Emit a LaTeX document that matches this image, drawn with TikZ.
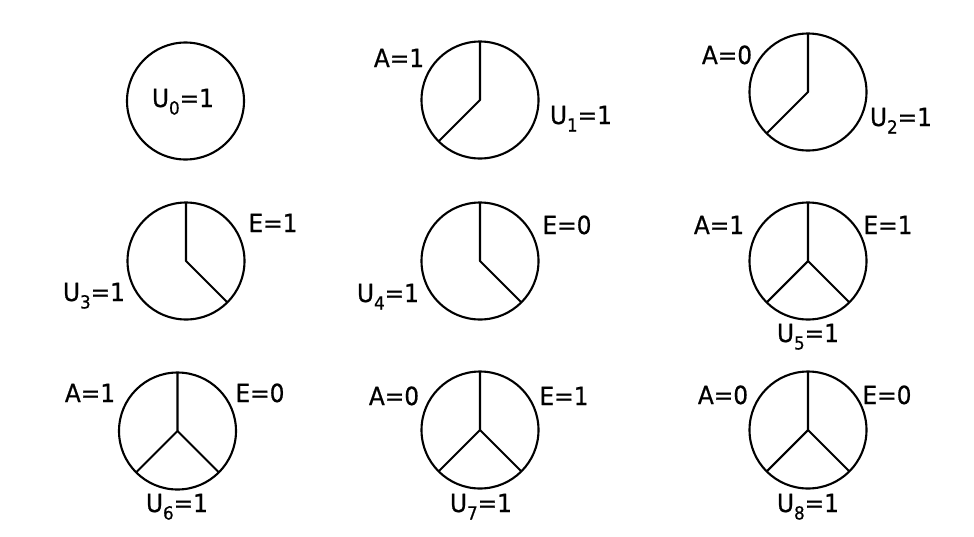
\documentclass[tikz,border=0pt]{standalone}
\usepackage{fontspec}
\setmainfont{DejaVu Sans}
\newfontfamily\labfont[FakeBold=0.6,FakeStretch=0.93]{DejaVu Sans}
\newcommand\subs[1]{\raisebox{-0.3em}{\fontsize{18}{18}\selectfont #1}}
\begin{document}
\begin{tikzpicture}[x=1pt,y=-1pt,
  pie/.style={circle,draw,line width=2.1pt,minimum size=117pt,inner sep=0pt,outer sep=0pt},
  cut/.style={line width=2.1pt,line join=round},
  lab/.style={anchor=base,inner sep=0pt,font=\labfont\fontsize{25}{29}\selectfont}]
\useasboundingbox (0,0) rectangle (974,536);
% row 1
\node[pie] (c0) at (185.5,101) {};
\node[lab] (t0) at (183,107) {U\subs{0}=1};
\node[pie] (c1) at (480,100) {};
\draw[cut] (c1.north) -- (c1.center) -- (c1.225);
\node[lab] (a1) at (399,67) {A=1};
\node[lab] (u1) at (581,124) {U\subs{1}=1};
\node[pie] (c2) at (808,92) {};
\draw[cut] (c2.north) -- (c2.center) -- (c2.225);
\node[lab] (a2) at (727,64) {A=0};
\node[lab] (u2) at (901,126) {U\subs{2}=1};
% row 2
\node[pie] (c3) at (186,261) {};
\draw[cut] (c3.north) -- (c3.center) -- (c3.-45);
\node[lab] (e3) at (273,232) {E=1};
\node[lab] (u3) at (94,301) {U\subs{3}=1};
\node[pie] (c4) at (480,261) {};
\draw[cut] (c4.north) -- (c4.center) -- (c4.-45);
\node[lab] (e4) at (567,234) {E=0};
\node[lab] (u4) at (388,302) {U\subs{4}=1};
\node[pie] (c5) at (808,261) {};
\draw[cut] (c5.north) -- (c5.center) -- (c5.225);
\draw[cut] (c5.center) -- (c5.-45);
\node[lab] (a5) at (719,234) {A=1};
\node[lab] (e5) at (888,234) {E=1};
\node[lab] (u5) at (808,342) {U\subs{5}=1};
% row 3
\node[pie] (c6) at (177.5,431) {};
\draw[cut] (c6.north) -- (c6.center) -- (c6.225);
\draw[cut] (c6.center) -- (c6.-45);
\node[lab] (a6) at (90,402) {A=1};
\node[lab] (e6) at (260,402) {E=0};
\node[lab] (u6) at (177,512) {U\subs{6}=1};
\node[pie] (c7) at (480,430) {};
\draw[cut] (c7.north) -- (c7.center) -- (c7.225);
\draw[cut] (c7.center) -- (c7.-45);
\node[lab] (a7) at (394,405) {A=0};
\node[lab] (e7) at (564,405) {E=1};
\node[lab] (u7) at (481,512) {U\subs{7}=1};
\node[pie] (c8) at (808,430) {};
\draw[cut] (c8.north) -- (c8.center) -- (c8.225);
\draw[cut] (c8.center) -- (c8.-45);
\node[lab] (a8) at (723,404) {A=0};
\node[lab] (e8) at (887,404) {E=0};
\node[lab] (u8) at (808,512) {U\subs{8}=1};
\end{tikzpicture}
\end{document}
